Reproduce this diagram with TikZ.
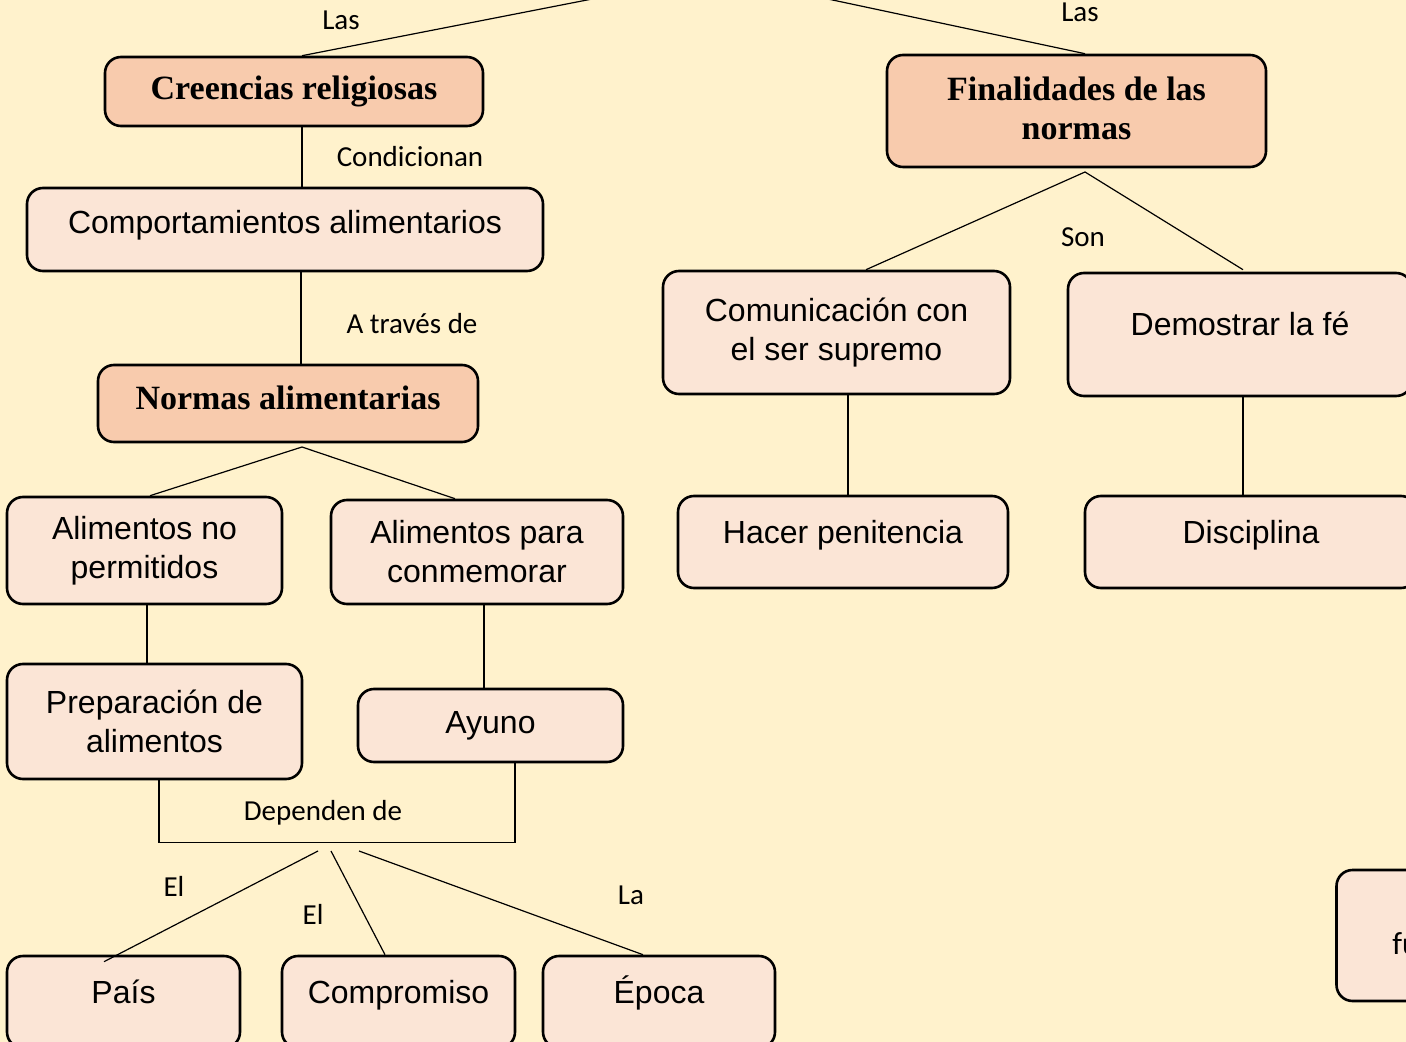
\documentclass[tikz,border=0pt]{standalone}
\usepackage{fontspec}
\setmainfont{Liberation Sans}
\newfontfamily\labelfont{Carlito}
\newfontfamily\headfont{Liberation Serif}
\definecolor{fondo}{HTML}{FFF2CC}
\definecolor{cabeza}{HTML}{F8CBAD}
\definecolor{concepto}{HTML}{FBE5D6}
\tikzset{
  caja/.style = {draw=black, line width=1.3pt, rounded corners=8pt,
    align=center, inner sep=2pt},
  titulo/.style = {caja, fill=cabeza,
    font=\headfont\bfseries\fontsize{17}{19.5}\selectfont},
  concep/.style = {caja, fill=concepto,
    font=\fontsize{16}{19.5}\selectfont},
  raised/.style = {text height=12pt, text depth=11pt},
  conn/.style = {line width=0.6pt},
  etiq/.style = {font=\labelfont\fontsize{14.5}{17}\selectfont, inner sep=0pt}
}

\begin{document}
\begin{tikzpicture}[x=0.5pt,y=-0.5pt]
  \useasboundingbox (0,0) rectangle (1406,1042);
  \fill[fondo] (0,0) rectangle (1406,1042);
  % nodos de la izquierda
  \node[titulo, minimum width=189pt, minimum height=34.5pt] (creen) at (294,91.5) {Creencias religiosas};
  \node[concep, text depth=7.5pt, minimum width=258pt, minimum height=41.5pt] (comp) at (285,229.5) {Comportamientos alimentarios};
  \node[titulo, text depth=6pt, minimum width=190pt, minimum height=38.5pt] (normas) at (288,403.5) {Normas alimentarias};
  \node[concep, minimum width=137.5pt, minimum height=53.5pt] (nopermit) at (144.5,550.5) {Alimentos no\\permitidos};
  \node[concep, minimum width=146pt, minimum height=52pt] (conmem) at (477,552) {Alimentos para\\conmemorar};
  \node[concep, minimum width=147.5pt, minimum height=57.5pt] (prep) at (154.5,721.5) {Preparación de\\alimentos};
  \node[concep, minimum width=132.5pt, minimum height=36.5pt] (ayuno) at (490.5,725.5) {Ayuno};
  \node[concep, raised, minimum width=116.5pt, minimum height=46pt] (pais) at (123.5,1002) {País};
  \node[concep, raised, minimum width=116.5pt, minimum height=46pt] (compro) at (398.5,1002) {Compromiso};
  \node[concep, raised, minimum width=116pt, minimum height=46pt] (epoca) at (659,1002) {Época};
  % nodos de la derecha
  \node[titulo, text depth=3pt, minimum width=189.5pt, minimum height=56pt] (final) at (1076.5,111) {Finalidades de las\\normas};
  \node[concep, minimum width=173.5pt, minimum height=61.5pt] (comun) at (836.5,332.5) {Comunicación con\\el ser supremo};
  \node[concep, raised, minimum width=172pt, minimum height=61.5pt] (demos) at (1240,334.5) {Demostrar la fé};
  \node[concep, raised, minimum width=165pt, minimum height=46pt] (penit) at (843,542) {Hacer penitencia};
  \node[concep, raised, minimum width=166pt, minimum height=46pt] (discip) at (1251,542) {Disciplina};
  \node[concep, minimum width=131.5pt, minimum height=65.5pt] (funda) at (1468,935.5) {};
  \node[font=\labelfont\fontsize{16}{19}\selectfont, anchor=west, inner sep=0pt] (fu) at (1392,944) {fu};
  % puntos de union
  \coordinate (raiz) at (715,-25);
  \coordinate (ramnorm) at (302,447);
  \coordinate (ramfin) at (1085,172);
  \coordinate (dep1) at (318,851);
  \coordinate (dep2) at (331,851);
  \coordinate (dep3) at (359,851);
  % conectores
  \draw[conn] ([xshift=4pt]creen.north) -- (raiz) -- ([xshift=4.25pt]final.north);
  \draw[conn] ([xshift=4pt]creen.south) -- ([xshift=8.5pt]comp.north);
  \draw[conn] ([xshift=8pt]comp.south) -- ([xshift=6.5pt]normas.north);
  \draw[conn] ([xshift=2.75pt]nopermit.north) -- (ramnorm) -- ([xshift=-11pt]conmem.north);
  \draw[conn] ([xshift=1.25pt]nopermit.south) -- ([xshift=-3.75pt]prep.north);
  \draw[conn] ([xshift=3.5pt]conmem.south) -- ([xshift=-3.25pt]ayuno.north);
  \draw[conn] ([xshift=2.25pt]prep.south) -- ++(0,62) -| ([xshift=12.25pt]ayuno.south);
  \draw[conn] (dep1) -- ([xshift=-9.75pt,yshift=-3.5pt]pais.north);
  \draw[conn] (dep2) -- ([xshift=-6.75pt]compro.north);
  \draw[conn] (dep3) -- ([xshift=-8pt]epoca.north);
  \draw[conn] ([xshift=14.75pt]comun.north) -- (ramfin) -- ([xshift=1.5pt,yshift=1pt]demos.north);
  \draw[conn] ([xshift=5.75pt]comun.south) -- ([xshift=2.5pt]penit.north);
  \draw[conn] ([xshift=1.5pt]demos.south) -- ([xshift=-4pt]discip.north);
  % etiquetas
  \node[etiq] (las1) at (341,20) {Las};
  \node[etiq] (las2) at (1080,12) {Las};
  \node[etiq] (condic) at (410,157) {Condicionan};
  \node[etiq] (atraves) at (412,324) {A través de};
  \node[etiq] (son) at (1083,237) {Son};
  \node[etiq] (dependen) at (323,813) {Dependen de};
  \node[etiq] (el1) at (174,886) {El};
  \node[etiq] (el2) at (313,914) {El};
  \node[etiq] (la) at (631,895) {La};
\end{tikzpicture}
\end{document}
